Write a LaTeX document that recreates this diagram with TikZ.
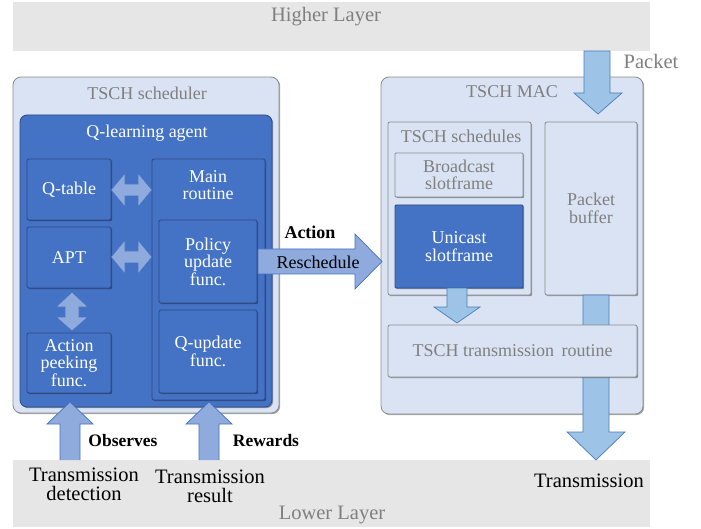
\documentclass[tikz,border=0pt]{standalone}
\usepackage{fontspec}
\setmainfont{Liberation Serif}
\usetikzlibrary{shadows}
\definecolor{lightbox}{HTML}{DAE3F3}
\definecolor{darkblue}{HTML}{4472C4}
\definecolor{darkedge}{HTML}{2F4A7F}
\definecolor{greyedge}{HTML}{8C8C8C}
\definecolor{greytext}{HTML}{7F7F7F}
\definecolor{layerfill}{HTML}{E6E6E6}
\definecolor{arrowa}{HTML}{8FAADC}
\definecolor{arrowaedge}{HTML}{4472C4}
\definecolor{arrowb}{HTML}{9DC3E6}
\definecolor{arrowbedge}{HTML}{4A7EBB}
\tikzset{
  txt/.style={font=\fontsize{18}{17.5}\selectfont, align=center, inner sep=0pt},
  bigtxt/.style={font=\fontsize{20.5}{19}\selectfont, align=center, inner sep=0pt},
  shad/.style={drop shadow={shadow xshift=1.2pt,shadow yshift=-1.2pt,opacity=0.35,fill=black}},
  boxat/.style={anchor=north west, inner sep=0pt, outer sep=0pt},
  layer/.style={boxat, fill=layerfill, draw=none},
  lightbox/.style={boxat, shad, draw=greyedge, fill=lightbox, line width=0.8pt, text=greytext, txt},
  darkbox/.style={boxat, shad, draw=darkedge, fill=darkblue, line width=0.8pt, text=white, txt},
  arrA/.style={fill=arrowa, draw=arrowaedge, line width=0.7pt, line join=miter},
  arrB/.style={fill=arrowb, draw=arrowbedge, line width=0.7pt, line join=miter},
}
\begin{document}
\begin{tikzpicture}[x=1pt,y=-1pt]
\useasboundingbox (0,0) rectangle (701,529);
\fill[white] (0,0) rectangle (701,529);

% layers
\node[layer, minimum width=637pt, minimum height=49pt] (higher) at (13,2) {};
\node[bigtxt, text=greytext] (higherlbl) at (326,17) {Higher Layer};
\node[layer, minimum width=637pt, minimum height=67pt] (lower) at (13,460) {};
\node[bigtxt, text=greytext] (lowerlbl) at (332,515) {Lower Layer};

% TSCH scheduler
\node[lightbox, rounded corners=8pt, minimum width=266pt, minimum height=336pt] (sched) at (13,77) {};
\node[txt, text=greytext] (schedlbl) at (147,93) {TSCH scheduler};
\node[darkbox, rounded corners=7pt, minimum width=252pt, minimum height=292pt] (agent) at (20,115) {};
\node[txt, text=white] (agentlbl) at (147,133) {Q-learning agent};
\node[darkbox, rounded corners=2pt, minimum width=84pt, minimum height=61pt] (qtable) at (27,159) {Q-table};
\node[darkbox, rounded corners=2pt, minimum width=84pt, minimum height=61pt] (apt) at (27,227) {APT};
\node[darkbox, rounded corners=2pt, minimum width=84pt, minimum height=60pt] (apf) at (27,333) {Action\\peeking\\func.};
\node[darkbox, rounded corners=2pt, minimum width=113pt, minimum height=241pt] (main) at (152,159) {};
\node[txt, text=white] (mainlbl) at (208,185) {Main\\routine};
\node[darkbox, rounded corners=2pt, minimum width=98pt, minimum height=83pt] (policy) at (159,220) {Policy\\update\\func.};
\node[darkbox, rounded corners=2pt, minimum width=98pt, minimum height=83pt] (qupd) at (159,310) {Q-update\\func.};

% double arrows
\draw[arrA] (111,190) -- (125,173) -- (125,184) -- (138,184) -- (138,173) -- (152,190)
  -- (138,207) -- (138,196) -- (125,196) -- (125,207) -- cycle;
\draw[arrA] (111,257) -- (125,240) -- (125,251) -- (138,251) -- (138,240) -- (152,257)
  -- (138,274) -- (138,263) -- (125,263) -- (125,274) -- cycle;
\draw[arrA] (72,292) -- (88,307) -- (79,307) -- (79,317) -- (88,317) -- (72,331)
  -- (56,317) -- (65,317) -- (65,307) -- (56,307) -- cycle;

% TSCH MAC
\node[lightbox, rounded corners=8pt, minimum width=262pt, minimum height=337pt] (mac) at (381,77) {};
\node[txt, text=greytext] (maclbl) at (512,92) {TSCH MAC};
\node[lightbox, rounded corners=2pt, minimum width=143pt, minimum height=173pt] (scheds) at (388,122) {};
\node[txt, text=greytext] (schedslbl) at (461,136) {TSCH schedules};
\node[lightbox, rounded corners=1pt, minimum width=128pt, minimum height=44pt] (bcast) at (395,153) {Broadcast\\slotframe};
\node[darkbox, rounded corners=1pt, minimum width=128pt, minimum height=83pt] (ucast) at (395,205) {Unicast\\slotframe};
\node[lightbox, rounded corners=2pt, minimum width=92pt, minimum height=173pt] (buffer) at (545,122) {Packet\\buffer};

% packet buffer -> transmission
\draw[arrB] (583,295) -- (609,295) -- (609,432) -- (625,432) -- (596,460) -- (567,432) -- (583,432) -- cycle;
\node[lightbox, rounded corners=2pt, minimum width=249pt, minimum height=52pt] (routine) at (388,325) {TSCH transmission\, routine};

% unicast -> routine
\draw[arrB] (447,288) -- (467,288) -- (467,307) -- (480,307) -- (457,323) -- (434,307) -- (447,307) -- cycle;

% packet from higher layer
\draw[arrB] (584,51) -- (610,51) -- (610,93) -- (622,93) -- (598,114) -- (574,93) -- (584,93) -- cycle;
\node[bigtxt, text=greytext] (packetlbl) at (651,61) {Packet};

% reschedule
\draw[arrA] (258,249) -- (355,249) -- (355,234) -- (382,261.5) -- (355,289) -- (355,274) -- (258,274) -- cycle;
\node[txt, font=\fontsize{18}{17.5}\selectfont\bfseries] (actionlbl) at (310,232) {Action};
\node[txt] (reschedlbl) at (318,262) {Reschedule};

% observes / rewards
\draw[arrA] (60,460) -- (60,424) -- (47,424) -- (70,402) -- (93,424) -- (80,424) -- (80,460);
\draw[arrA] (199,460) -- (199,424) -- (186,424) -- (209,402) -- (232,424) -- (219,424) -- (219,460);
\node[txt, font=\fontsize{17.5}{17}\selectfont\bfseries] (obslbl) at (123,441) {Observes};
\node[txt, font=\fontsize{17.5}{17}\selectfont\bfseries] (rewlbl) at (266,441) {Rewards};

% bottom labels
\node[bigtxt] (tdet) at (84,484) {Transmission\\detection};
\node[bigtxt] (tres) at (210,486) {Transmission\\result};
\node[bigtxt] (tx) at (589,481) {Transmission};
\end{tikzpicture}
\end{document}
